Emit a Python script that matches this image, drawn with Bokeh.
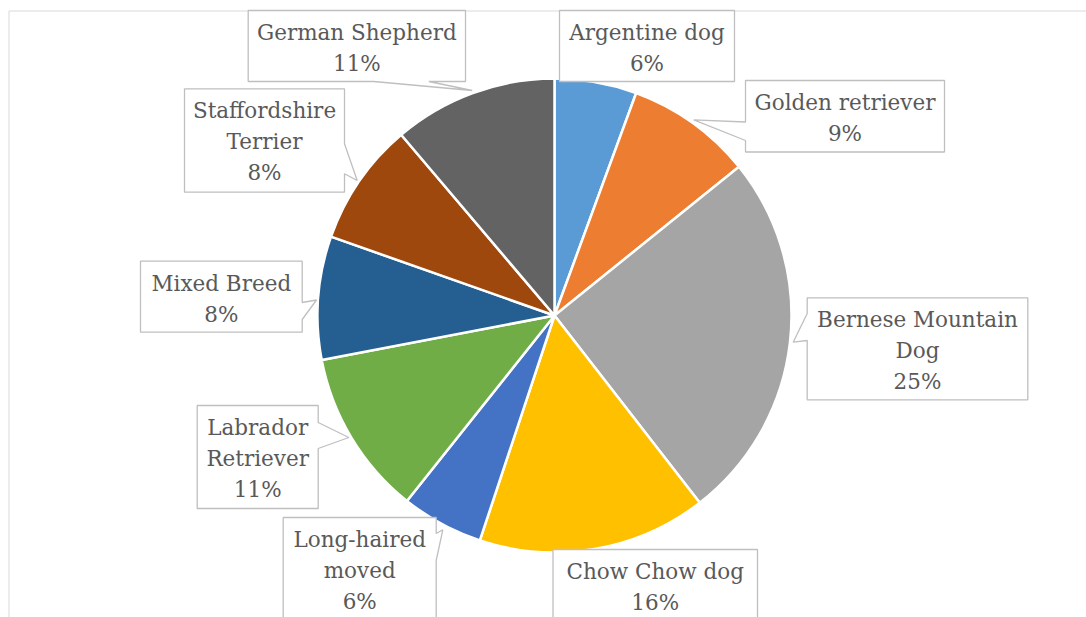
import math
from bokeh.plotting import figure
from bokeh.models import Range1d, ColumnDataSource
from bokeh.core.properties import value
from bokeh.embed import file_html
from bokeh.resources import INLINE

# ---- data ----
categories = ["Argentine dog", "Golden retriever", "Bernese Mountain\nDog", "Chow Chow dog",
              "Long-haired\nmoved", "Labrador\nRetriever", "Mixed Breed",
              "Staffordshire\nTerrier", "German Shepherd"]
shares = [5.6, 8.6, 25.3, 15.6, 5.6, 11.3, 8.4, 8.4, 11.2]
colors = ["#5B9BD5", "#ED7D31", "#A5A5A5", "#FFC000", "#4472C4",
          "#70AD47", "#255E91", "#9E480E", "#636363"]

# ---- layout (page pixels) ----
W, H = 1086, 617
OX, OY = 0, 0
PIE_CX, PIE_CY, PIE_R = 554, 315, 237
# label boxes: (left, top, right, bottom), pointer: (side, a, b, tipx, tipy) or None
boxes = [
    ((559, 10, 734, 81), None),
    ((745, 80, 944, 151.5), ("left", 121.5, 140, 693.3, 119.3)),
    ((806.7, 297.3, 1027.3, 399.3), ("left", 313, 340, 792.7, 341.7)),
    ((552.5, 549, 757, 660), None),
    ((282.7, 517, 435.7, 660), ("right", 533, 560, 442.3, 529.3)),
    ((196.7, 405, 317.7, 508), ("right", 422, 448, 348.3, 437)),
    ((140, 260.7, 301.7, 331.7), ("right", 302, 319, 316, 299.5)),
    ((184, 88.3, 344, 191.7), ("right", 143.3, 173.3, 356.7, 180)),
    ((247.7, 10, 465, 81), ("bottom", 373.3, 428.3, 471.7, 90)),
]
FIRST_BASE = 22
LINE_H = 31
FONT = "DejaVu Serif"
FONT_SIZE = "21.5px"


def dx(sx):
    return sx - OX


def dy(sy):
    return H + OY - sy


p = figure(width=W, height=H, x_range=Range1d(0, W), y_range=Range1d(0, H),
           output_backend="svg", toolbar_location=None, min_border=0,
           x_axis_location=None, y_axis_location=None, outline_line_color=None)
p.grid.visible = False
p.background_fill_color = "white"
p.border_fill_color = "white"

# chart frame
p.line(x=[dx(8.5), dx(8.5), dx(1300)], y=[dy(800), dy(10.5), dy(10.5)],
       line_color="#D9D9D9", line_width=1)

# pie
total = sum(shares)
cum = [0.0]
for v in shares:
    cum.append(cum[-1] + v / total)
start = [math.pi / 2 - 2 * math.pi * cum[i] for i in range(len(shares))]
end = [math.pi / 2 - 2 * math.pi * cum[i + 1] for i in range(len(shares))]
src = ColumnDataSource(dict(start=start, end=end, color=colors))
p.wedge(x=dx(PIE_CX), y=dy(PIE_CY), radius=PIE_R, start_angle="start", end_angle="end",
        direction="clock", fill_color="color", line_color="white", line_width=2.5, source=src)

# callouts
xs, ys = [], []
for (l, t, r, b), ptr in boxes:
    pts = [(l, t), (r, t)]
    if ptr and ptr[0] == "right":
        pts += [(r, ptr[1]), (ptr[3], ptr[4]), (r, ptr[2])]
    pts.append((r, b))
    if ptr and ptr[0] == "bottom":
        pts += [(ptr[2], b), (ptr[3], ptr[4]), (ptr[1], b)]
    pts.append((l, b))
    if ptr and ptr[0] == "left":
        pts += [(l, ptr[2]), (ptr[3], ptr[4]), (l, ptr[1])]
    xs.append([dx(x) for x, _ in pts])
    ys.append([dy(y) for _, y in pts])
p.patches(xs=xs, ys=ys, fill_color="white", line_color="#BFBFBF", line_width=1.3)

# label texts
tx, ty, tt = [], [], []
for i, (cat, v) in enumerate(zip(categories, shares)):
    (l, t, r, b), _ = boxes[i]
    pct = f"{int(v / total * 100 + 0.5)}%"
    lines = cat.split("\n") + [pct]
    for k, s in enumerate(lines):
        tx.append(dx((l + r) / 2))
        ty.append(dy(t + FIRST_BASE + k * LINE_H))
        tt.append(s)
p.text(x=tx, y=ty, text=tt, text_align="center", text_baseline="alphabetic",
       text_font=value(FONT), text_font_size=FONT_SIZE, text_color="#595959")

open("out.html", "w").write(file_html(p, INLINE))
